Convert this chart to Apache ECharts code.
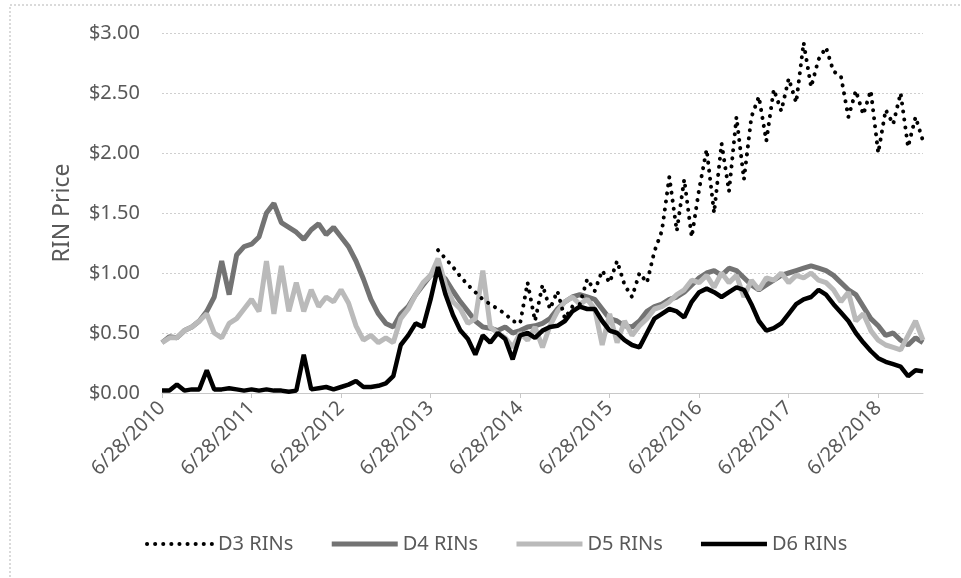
<!DOCTYPE html>
<html>
<head>
<meta charset="utf-8">
<script src="https://cdn.jsdelivr.net/npm/echarts@6/dist/echarts.min.js"></script>
<style>
html, body { margin: 0; padding: 0; background: #fff; }
#chart { width: 961px; height: 578px; }
</style>
</head>
<body>
<div id="chart"></div>
<script>
var myChart = echarts.init(document.getElementById('chart'));

// x = months after 6/28/2010, one reading per month
var tickMonths = [0, 12, 24, 36, 48, 60, 72, 84, 96];
var tickLabels = ['6/28/2010', '6/28/2011', '6/28/2012', '6/28/2013', '6/28/2014',
                  '6/28/2015', '6/28/2016', '6/28/2017', '6/28/2018'];
var lastMonth = 102;

// D3 only starts in mid 2013
var d3Start = 37;
var d3 = [1.19, 1.12, 1.05, 0.97, 0.90, 0.84, 0.78, 0.74, 0.70, 0.66,
          0.60, 0.58, 0.92, 0.60, 0.90, 0.70, 0.85, 0.62, 0.72, 0.74,
          0.95, 0.85, 1.02, 0.92, 1.10, 0.90, 0.80, 1.00, 0.92, 1.18,
          1.35, 1.80, 1.35, 1.78, 1.30, 1.70, 2.03, 1.50, 2.08, 1.68,
          2.30, 1.78, 2.30, 2.47, 2.10, 2.53, 2.35, 2.62, 2.42, 2.92,
          2.55, 2.78, 2.88, 2.68, 2.64, 2.30, 2.52, 2.32, 2.52, 2.00,
          2.36, 2.24, 2.50, 2.05, 2.30, 2.10];

var d4 = [0.42, 0.47, 0.46, 0.52, 0.55, 0.60, 0.68, 0.80, 1.10, 0.82,
          1.15, 1.22, 1.24, 1.30, 1.50, 1.58, 1.42, 1.38, 1.34, 1.28,
          1.36, 1.41, 1.32, 1.38, 1.30, 1.22, 1.10, 0.95, 0.78, 0.66,
          0.58, 0.55, 0.66, 0.72, 0.82, 0.90, 0.98, 1.00, 0.95, 0.85,
          0.76, 0.68, 0.60, 0.55, 0.54, 0.52, 0.55, 0.50, 0.52, 0.55,
          0.56, 0.58, 0.62, 0.70, 0.76, 0.80, 0.82, 0.80, 0.78, 0.70,
          0.62, 0.60, 0.56, 0.55, 0.60, 0.68, 0.72, 0.74, 0.78, 0.80,
          0.84, 0.90, 0.96, 1.00, 1.02, 0.98, 1.04, 1.02, 0.96, 0.90,
          0.86, 0.90, 0.94, 0.98, 1.00, 1.02, 1.04, 1.06, 1.04, 1.02,
          0.98, 0.92, 0.86, 0.82, 0.72, 0.62, 0.56, 0.48, 0.50, 0.44,
          0.40, 0.46, 0.42];

var d5 = [0.42, 0.46, 0.46, 0.52, 0.55, 0.60, 0.66, 0.50, 0.46, 0.58,
          0.62, 0.70, 0.78, 0.68, 1.10, 0.66, 1.06, 0.68, 0.92, 0.68,
          0.86, 0.72, 0.80, 0.76, 0.86, 0.75, 0.56, 0.44, 0.48, 0.42,
          0.46, 0.42, 0.62, 0.70, 0.82, 0.92, 0.98, 1.12, 0.90, 0.76,
          0.70, 0.58, 0.62, 1.02, 0.55, 0.50, 0.46, 0.38, 0.50, 0.44,
          0.55, 0.38, 0.56, 0.68, 0.76, 0.80, 0.74, 0.78, 0.70, 0.40,
          0.66, 0.42, 0.60, 0.48, 0.56, 0.62, 0.70, 0.72, 0.76, 0.82,
          0.86, 0.94, 0.92, 0.98, 0.88, 1.00, 0.92, 0.98, 0.80, 0.94,
          0.86, 0.96, 0.94, 1.00, 0.92, 0.98, 0.96, 1.00, 0.94, 0.92,
          0.86, 0.76, 0.84, 0.60, 0.66, 0.52, 0.44, 0.40, 0.38, 0.36,
          0.48, 0.60, 0.44];

var d6 = [0.02, 0.02, 0.07, 0.02, 0.03, 0.03, 0.19, 0.03, 0.03, 0.04,
          0.03, 0.02, 0.03, 0.02, 0.03, 0.02, 0.02, 0.01, 0.02, 0.32,
          0.03, 0.04, 0.05, 0.03, 0.05, 0.07, 0.10, 0.05, 0.05, 0.06,
          0.08, 0.14, 0.40, 0.48, 0.58, 0.55, 0.78, 1.05, 0.82, 0.65,
          0.52, 0.45, 0.32, 0.48, 0.42, 0.50, 0.45, 0.28, 0.48, 0.50,
          0.46, 0.52, 0.55, 0.56, 0.60, 0.68, 0.72, 0.70, 0.70, 0.60,
          0.52, 0.50, 0.44, 0.40, 0.38, 0.50, 0.62, 0.66, 0.70, 0.68,
          0.63, 0.76, 0.84, 0.87, 0.84, 0.80, 0.84, 0.88, 0.86, 0.74,
          0.60, 0.52, 0.54, 0.58, 0.66, 0.74, 0.78, 0.80, 0.86, 0.82,
          0.74, 0.67, 0.60, 0.50, 0.42, 0.35, 0.29, 0.26, 0.24, 0.22,
          0.14, 0.19, 0.18];

var toPoints = function (vals, start) {
    var res = [];
    for (var i = 0; i < vals.length; i++) {
        res.push([start + i, vals[i]]);
    }
    return res;
};

var textColor = '#595959';
var font = 'Noto Sans';

var option = {
    backgroundColor: '#fff',
    animation: false,
    grid: { left: 162, right: 38, top: 33, bottom: 185 },
    graphic: [{
        type: 'rect',
        shape: { x: 10, y: 5, width: 1000, height: 700 },
        style: { fill: null, stroke: '#b5b5b5', lineWidth: 1, lineDash: [2, 2] },
        silent: true
    }],
    legend: {
        data: ['D3 RINs', 'D4 RINs', 'D5 RINs', 'D6 RINs'],
        left: 140,
        top: 529,
        itemWidth: 66,
        itemHeight: 14,
        itemGap: 36,
        itemStyle: { opacity: 0 },
        lineStyle: { width: 'inherit' },
        textStyle: { color: textColor, fontFamily: font, fontSize: 20 }
    },
    xAxis: {
        type: 'value',
        min: 0,
        max: lastMonth,
        interval: 12,
        splitLine: { show: false },
        axisLine: { show: true, lineStyle: { color: '#c8c8c8', width: 1 } },
        axisTick: { show: true, customValues: tickMonths, length: 5, lineStyle: { color: '#c8c8c8' } },
        axisLabel: {
            customValues: tickMonths,
            rotate: 45,
            margin: 12,
            color: textColor,
            fontFamily: font,
            fontSize: 20,
            formatter: function (v) {
                return tickLabels[tickMonths.indexOf(v)];
            }
        }
    },
    yAxis: {
        type: 'value',
        min: 0,
        max: 3,
        interval: 0.5,
        name: 'RIN Price',
        nameLocation: 'middle',
        nameGap: 88,
        nameTextStyle: { color: textColor, fontFamily: font, fontSize: 23 },
        axisLine: { show: false },
        axisTick: { show: false },
        splitLine: { lineStyle: { color: '#cfcfcf', type: [2, 2], width: 1 } },
        axisLabel: {
            margin: 22,
            color: textColor,
            fontFamily: font,
            fontSize: 20,
            formatter: function (v) { return '$' + v.toFixed(2); }
        }
    },
    series: [
        {
            name: 'D3 RINs',
            type: 'line',
            data: toPoints(d3, d3Start),
            symbol: 'none',
            z: 5,
            itemStyle: { color: '#000' },
            lineStyle: { color: '#000', width: 4, type: [0.1, 8], cap: 'round' }
        },
        {
            name: 'D4 RINs',
            type: 'line',
            data: toPoints(d4, 0),
            symbol: 'none',
            itemStyle: { color: '#737373' },
            lineStyle: { color: '#737373', width: 5 }
        },
        {
            name: 'D5 RINs',
            type: 'line',
            data: toPoints(d5, 0),
            symbol: 'none',
            itemStyle: { color: '#bababa' },
            lineStyle: { color: '#bababa', width: 5 }
        },
        {
            name: 'D6 RINs',
            type: 'line',
            data: toPoints(d6, 0),
            symbol: 'none',
            itemStyle: { color: '#000' },
            lineStyle: { color: '#000', width: 4.5 }
        }
    ]
};

myChart.setOption(option);
</script>
</body>
</html>
